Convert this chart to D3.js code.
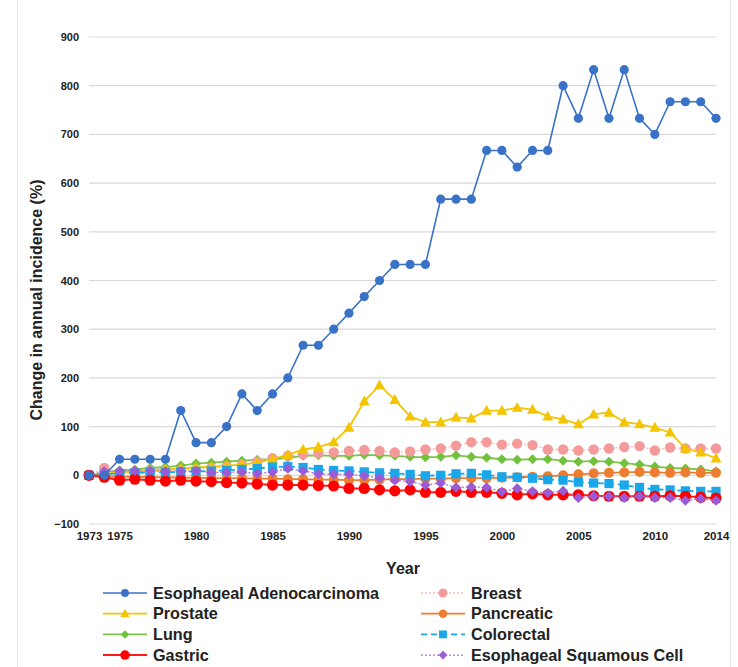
<!DOCTYPE html>
<html><head><meta charset="utf-8">
<script src="https://cdn.jsdelivr.net/npm/d3@7"></script>
<style>body{margin:0;background:#fff;}svg{display:block;font-family:Arial,"Liberation Sans",sans-serif;}</style>
</head><body><svg id="c" width="738" height="667"></svg>
<script>
const years = d3.range(1973, 2015);
const xTicks = [1973,1975,1980,1985,1990,1995,2000,2005,2010,2014];
const yTicks = [-100,0,100,200,300,400,500,600,700,800,900];

const adeno = [0,0,33,33,33,33,133,67,67,100,167,133,167,200,267,267,300,333,367,400,433,433,433,567,567,567,667,667,633,667,667,800,733,833,733,833,733,700,767,767,767,733];
const breast = [0,15,5,5,8,10,10,12,15,18,22,28,35,40,43,45,47,50,52,50,47,49,53,55,61,68,68,63,65,62,53,53,51,53,55,58,60,51,57,55,55,55];
const prostate = [0,3,6,8,10,12,14,16,18,20,22,26,33,42,53,58,68,98,152,185,155,121,109,109,119,117,133,133,139,135,121,115,105,125,129,109,105,98,88,55,47,35];
const pancreatic = [0,-2,-3,-3,-4,-4,-5,-5,-6,-6,-6,-7,-7,-8,-8,-9,-9,-10,-10,-9,-8,-8,-7,-7,-6,-6,-6,-5,-4,-3,-2,0,2,4,5,6,7,6,5,6,5,5];
const lung = [0,5,10,12,15,17,20,24,26,28,30,32,33,36,40,41,40,40,42,41,40,38,37,38,41,38,36,33,32,33,33,30,28,29,28,25,22,18,15,14,12,8];
const colorectal = [0,2,4,5,6,6,7,8,9,10,12,14,17,18,16,12,10,9,7,5,4,2,-1,0,3,4,1,-3,-4,-6,-9,-10,-14,-16,-17,-20,-25,-29,-30,-32,-33,-33];
const gastric = [0,-4,-10,-8,-10,-12,-10,-12,-13,-15,-16,-18,-20,-20,-20,-21,-22,-27,-27,-30,-32,-30,-35,-35,-33,-35,-35,-37,-40,-38,-40,-40,-40,-42,-43,-43,-43,-43,-42,-43,-45,-47];
const squamous = [0,8,9,9,9,8,8,9,6,6,7,3,7,14,9,3,2,2,-1,-6,-10,-13,-20,-16,-25,-24,-25,-34,-27,-33,-36,-32,-46,-43,-43,-46,-43,-46,-46,-52,-48,-52];

const seriesNames = ["Esophageal Adenocarcinoma","Breast","Prostate","Pancreatic","Lung","Colorectal","Gastric","Esophageal Squamous Cell"];
const seriesValues = [adeno, breast, prostate, pancreatic, lung, colorectal, gastric, squamous];
const styles = [
  {color:"#3a72c8", mcolor:"#3a72c8", dash:null, shape:"circle", r:4.6, w:1.6},
  {color:"#f7b9b9", mcolor:"#f49a9a", dash:"2,2", shape:"circle", r:5.2, w:1.3},
  {color:"#f2c500", mcolor:"#f2c500", dash:null, shape:"triangle", r:5.2, w:1.8},
  {color:"#ed7d31", mcolor:"#ed7d31", dash:null, shape:"circle", r:5.0, w:1.8},
  {color:"#7cc545", mcolor:"#72c13c", dash:null, shape:"diamond", r:5.0, w:1.8},
  {color:"#19a7ea", mcolor:"#19a7ea", dash:"6,4", shape:"square", r:4.6, w:1.8},
  {color:"#ff1a1a", mcolor:"#ff0000", dash:null, shape:"circle", r:5.6, w:2.0},
  {color:"#a673d6", mcolor:"#9a5bd6", dash:"2,2", shape:"diamond", r:5.2, w:1.3}
];

const svg = d3.select("#c");
svg.append("rect").attr("x",17.5).attr("y",-1).attr("width",713).attr("height",670).attr("fill","#fff").attr("stroke","#e6e6e6");

const x = d3.scaleLinear().domain([1973,2014]).range([89,716]);
const y = d3.scaleLinear().domain([-100,900]).range([524,37]);

// grid
svg.append("g").selectAll("line").data(yTicks).join("line")
  .attr("x1",89).attr("x2",716).attr("y1",d=>y(d)).attr("y2",d=>y(d))
  .attr("stroke","#d9d9d9").attr("stroke-width",1.2);

const yAxis = svg.append("g").attr("transform","translate(89,0)")
  .call(d3.axisLeft(y).tickValues(yTicks).tickSize(0).tickPadding(10));
yAxis.select(".domain").remove();
yAxis.selectAll("text").attr("font-size",11).attr("font-weight","bold").attr("fill","#222").attr("font-family","Arial, Liberation Sans, sans-serif");

const xAxis = svg.append("g").attr("transform","translate(0,524)")
  .call(d3.axisBottom(x).tickValues(xTicks).tickFormat(d3.format("d")).tickSize(0).tickPadding(8));
xAxis.select(".domain").remove();
xAxis.selectAll("text").attr("font-size",11.5).attr("font-weight","bold").attr("fill","#222").attr("font-family","Arial, Liberation Sans, sans-serif");

svg.append("text").attr("x",403).attr("y",574).attr("text-anchor","middle")
  .attr("font-size",16).attr("font-weight","bold").attr("fill","#222").text("Year");
svg.append("text").attr("transform","translate(42,300) rotate(-90)").attr("text-anchor","middle")
  .attr("font-size",16).attr("font-weight","bold").attr("fill","#222").text("Change in annual incidence (%)");

function marker(g, st, cx, cy){
  const r = st.r;
  if(st.shape==="circle") g.append("circle").attr("cx",cx).attr("cy",cy).attr("r",r).attr("fill",st.mcolor);
  else if(st.shape==="square") g.append("rect").attr("x",cx-r).attr("y",cy-r).attr("width",2*r).attr("height",2*r).attr("fill",st.mcolor);
  else if(st.shape==="diamond") g.append("path").attr("d",`M${cx},${cy-r}L${cx+r},${cy}L${cx},${cy+r}L${cx-r},${cy}Z`).attr("fill",st.mcolor);
  else if(st.shape==="triangle") g.append("path").attr("d",`M${cx},${cy-r*1.1}L${cx+r*1.05},${cy+r*0.8}L${cx-r*1.05},${cy+r*0.8}Z`).attr("fill",st.mcolor);
}

const line = d3.line().x((d,i)=>x(years[i])).y(d=>y(d));
[4,1,2,3,5,6,7,0].forEach(k=>{
  const st = styles[k];
  const g = svg.append("g");
  g.append("path").datum(seriesValues[k]).attr("d",line).attr("fill","none")
    .attr("stroke",st.color).attr("stroke-width",st.w).attr("stroke-dasharray",st.dash);
  seriesValues[k].forEach((v,i)=>marker(g, st, x(years[i]), y(v)));
});

// legend
const leg = svg.append("g");
seriesNames.forEach((n,k)=>{
  const col = k%2, row = Math.floor(k/2);
  const lx = col===0 ? 103 : 421;
  const ly = 593 + row*20.7;
  const st = styles[k];
  const g = leg.append("g");
  g.append("line").attr("x1",lx).attr("x2",lx+44).attr("y1",ly).attr("y2",ly)
    .attr("stroke",st.color).attr("stroke-width",st.w).attr("stroke-dasharray",st.dash);
  marker(g, Object.assign({},st,{r:st.r*0.85}), lx+22, ly);
  g.append("text").attr("x",lx+50).attr("y",ly+5.5).attr("font-size",16.2).attr("font-weight","bold").attr("fill","#222").text(n);
});
</script></body></html>
